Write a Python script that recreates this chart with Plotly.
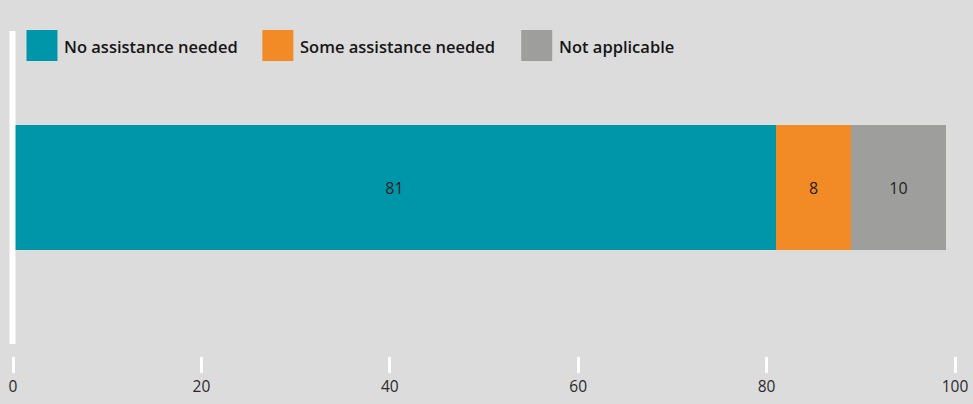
import plotly.graph_objects as go

categories = ["All"]
series_names = ["No assistance needed", "Some assistance needed", "Not applicable"]
series_values = [[81], [8], [10]]
series_colors = ["#0096AA", "#F28A25", "#9E9E9C"]
tick_vals = [0, 20, 40, 60, 80, 100]
tick_text = ["0", "20", "40", "60", "80", "100"]

W, H = 973, 404
ML, MR, MT, MB = 12.5, 18, 31, 48
PW = W - ML - MR
PH = H - MT - MB


def px_x(p):
    return (p - ML) / PW


def px_y(p):
    return 1 - (p - MT) / PH


fig = go.Figure()
for name, vals, col in zip(series_names, series_values, series_colors):
    fig.add_trace(go.Bar(
        y=categories, x=vals, name=name, orientation="h",
        marker=dict(color=col, line=dict(width=0)),
        text=[str(v) for v in vals], textposition="inside",
        insidetextanchor="middle",
        textfont=dict(family="Open Sans", size=16, color="#1e1e1e", weight=400),
        showlegend=False, hoverinfo="skip",
    ))

shapes = [dict(type="rect", xref="paper", yref="paper",
               x0=px_x(9), x1=px_x(15), y0=px_y(344), y1=px_y(31),
               fillcolor="white", line=dict(width=0), layer="above")]
annotations = []
legend_x = [26, 262, 521]
for name, col, lx in zip(series_names, series_colors, legend_x):
    shapes.append(dict(type="rect", xref="paper", yref="paper",
                       x0=px_x(lx), x1=px_x(lx + 31), y0=px_y(61), y1=px_y(30),
                       fillcolor=col, line=dict(width=0), layer="above"))
    annotations.append(dict(xref="paper", yref="paper", x=px_x(lx + 36), y=px_y(46),
                            xanchor="left", yanchor="middle", showarrow=False,
                            text=name,
                            font=dict(family="Open Sans", size=16.5, color="#161616", weight=600)))

fig.update_layout(
    width=W, height=H,
    margin=dict(l=ML, r=MR, t=MT, b=MB, pad=0, autoexpand=False),
    paper_bgcolor="#DCDCDC", plot_bgcolor="#DCDCDC",
    barmode="stack", bargap=0.6,
    shapes=shapes, annotations=annotations,
    xaxis=dict(range=[0, 100], tickvals=tick_vals, ticktext=tick_text,
               showgrid=False, zeroline=False, showline=False, automargin=False,
               ticks="outside", ticklen=16, tickwidth=3, tickcolor="white",
               anchor="free", position=0,
               tickfont=dict(family="Open Sans", size=15.5, color="#2a2a2a", weight=400)),
    yaxis=dict(domain=[12 / PH, 1], showticklabels=False, showgrid=False, automargin=False,
               zeroline=False, showline=False, range=[-0.5, 0.5]),
)

fig.write_html(
    "out.html",
    config={"displayModeBar": False},
    post_script="document.body.style.margin='0';document.body.style.background='#DCDCDC';",
)
